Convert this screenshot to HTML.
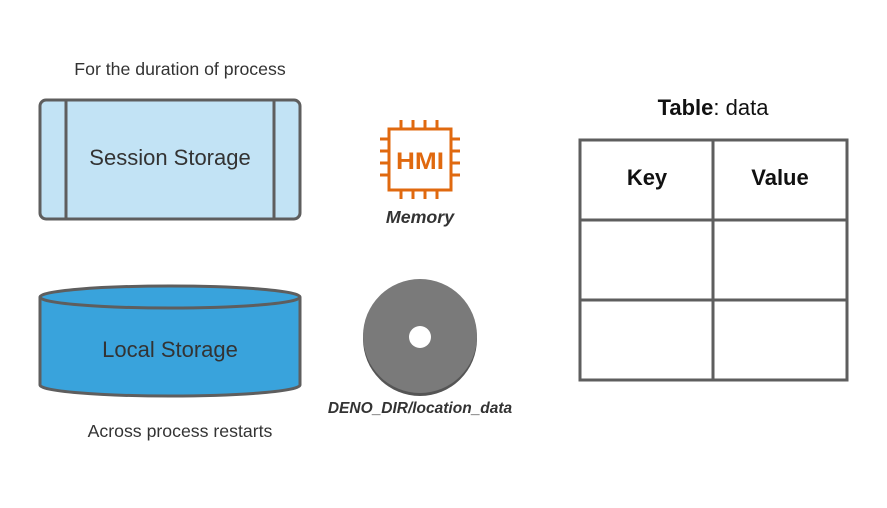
<!DOCTYPE html>
<html><head><style>body{margin:0;background:#fff}</style></head><body>
<svg width="887" height="503" xmlns="http://www.w3.org/2000/svg" font-family="Liberation Sans, sans-serif">
<rect width="887" height="503" fill="#fff"/>
<text x="180" y="75" font-size="17.7" fill="#333" text-anchor="middle">For the duration of process</text>
<rect x="40" y="100" width="260" height="119" rx="6" fill="#c2e3f5" stroke="#5e5e5e" stroke-width="3"/>
<line x1="66" y1="100" x2="66" y2="219" stroke="#5e5e5e" stroke-width="3"/>
<line x1="274" y1="100" x2="274" y2="219" stroke="#5e5e5e" stroke-width="3"/>
<text x="170" y="165" font-size="22" fill="#333" text-anchor="middle">Session Storage</text>
<path d="M40,297 L40,385 A130,11 0 0 0 300,385 L300,297" fill="#39a3dc" stroke="#5e5e5e" stroke-width="3"/>
<ellipse cx="170" cy="297" rx="130" ry="11" fill="#39a3dc" stroke="#5e5e5e" stroke-width="3"/>
<text x="170" y="357" font-size="22" fill="#333" text-anchor="middle">Local Storage</text>
<text x="180" y="437" font-size="17.7" fill="#333" text-anchor="middle">Across process restarts</text>
<g stroke="#e0690f" stroke-width="3" fill="none">
<rect x="389" y="129" width="62" height="61"/>
<path d="M401,120v9M413,120v9M425,120v9M437,120v9M401,190v9M413,190v9M425,190v9M437,190v9M380,139h9M380,151h9M380,163h9M380,175h9M451,139h9M451,151h9M451,163h9M451,175h9"/>
</g>
<text x="420" y="169" font-size="24" font-weight="bold" fill="#e0690f" text-anchor="middle" textLength="48" lengthAdjust="spacingAndGlyphs">HMI</text>
<text x="420" y="223" font-size="17.8" font-weight="bold" font-style="italic" fill="#333" text-anchor="middle">Memory</text>
<circle cx="420" cy="339" r="57" fill="#555"/>
<circle cx="420" cy="336" r="57" fill="#7a7a7a"/>
<circle cx="420" cy="337" r="11" fill="#fff"/>
<text x="420" y="413" font-size="15.5" font-weight="bold" font-style="italic" fill="#333" text-anchor="middle">DENO_DIR/location_data</text>
<text x="713" y="115" font-size="22" fill="#111" text-anchor="middle"><tspan font-weight="bold">Table</tspan>: data</text>
<g stroke="#5e5e5e" stroke-width="3" fill="none">
<rect x="580" y="140" width="267" height="240"/>
<line x1="713" y1="140" x2="713" y2="380"/>
<line x1="580" y1="220" x2="847" y2="220"/>
<line x1="580" y1="300" x2="847" y2="300"/>
</g>
<text x="647" y="185" font-size="22" font-weight="bold" fill="#111" text-anchor="middle">Key</text>
<text x="780" y="185" font-size="22" font-weight="bold" fill="#111" text-anchor="middle">Value</text>
</svg>
</body></html>
